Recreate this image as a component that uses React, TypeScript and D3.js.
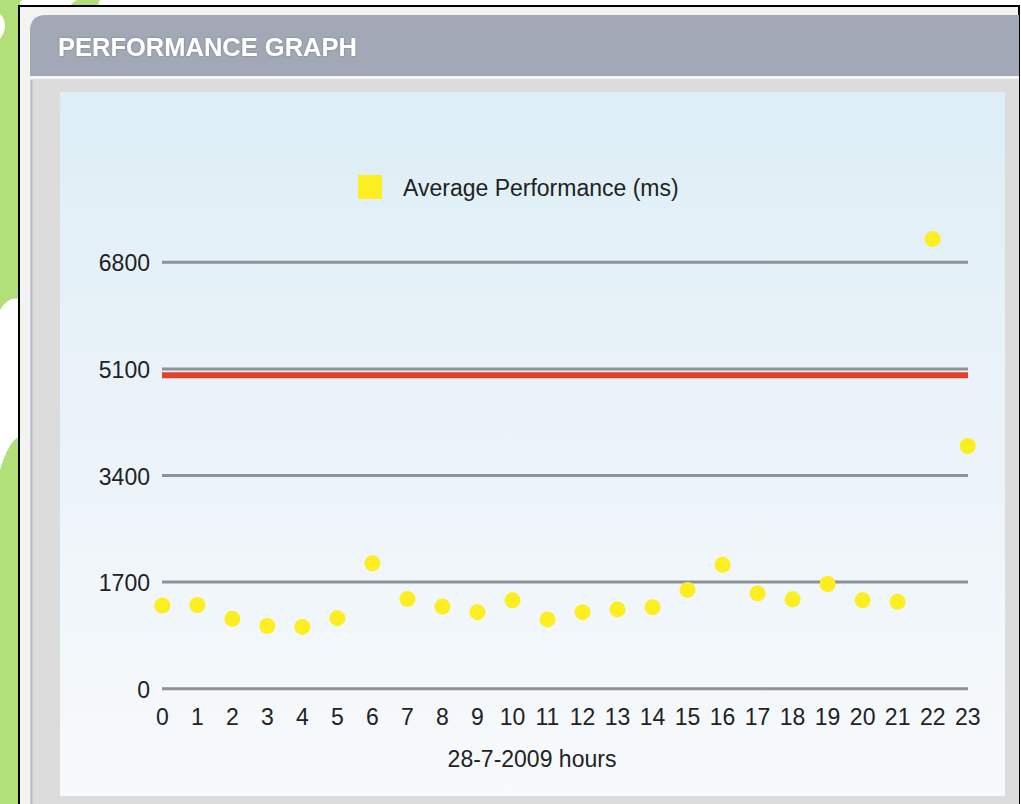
import React from "react";
import * as d3 from "d3";

const title = "PERFORMANCE GRAPH";
const seriesName = "Average Performance (ms)";
const xAxisTitle = "28-7-2009 hours";
const hours = [0, 1, 2, 3, 4, 5, 6, 7, 8, 9, 10, 11, 12, 13, 14, 15, 16, 17, 18, 19, 20, 21, 22, 23];
const avgPerformance = [1325, 1335, 1115, 1000, 985, 1125, 2000, 1430, 1310, 1220, 1410, 1105, 1220, 1265, 1300, 1575, 1975, 1520, 1425, 1670, 1410, 1385, 7170, 3870];
const yTicks = [0, 1700, 3400, 5100, 6800];
const threshold = 5000;

const W = 1021;
const H = 804;

export default function App() {
  const x = d3.scaleLinear().domain([0, 23]).range([162.3, 967.7]);
  const y = d3.scaleLinear().domain([0, 6800]).range([688.7, 262.3]);
  const font = "'Liberation Sans', Arial, Helvetica, sans-serif";

  return (
    <div style={{ position: "absolute", left: 0, top: 0, width: W, height: H, background: "#fff" }}>
      <svg width={W} height={H} style={{ display: "block" }}>
        <defs>
          <linearGradient id="plotBg" x1="0" y1="0" x2="0" y2="1">
            <stop offset="0" stopColor="#ddeef6" />
            <stop offset="0.55" stopColor="#edf4f9" />
            <stop offset="1" stopColor="#f7fafc" />
          </linearGradient>
          <filter id="txtShadow" x="-5%" y="-20%" width="110%" height="140%">
            <feDropShadow dx="0" dy="0" stdDeviation="0.8" floodColor="#6a6f7c" floodOpacity="0.8" />
          </filter>
        </defs>
        <rect x={0} y={0} width={W} height={H} fill="#ffffff" />
        {/* green background blobs */}
        <path d="M0,0 L20,0 L20,300 C14,296 6,300 0,310 Z" fill="#b1df78" />
        <path d="M0,0 L22,0 C14,8 8,14 0,12 Z" fill="#b1df78" />
        <path d="M0,14 C5,18 6,26 4,32 C2,36 0,38 0,40 Z" fill="#ffffff" />
        <path d="M70,6 C74,0 80,-2 86,0 L100,0 C98,3 98,5 100,6 Z" fill="#b1df78" />
        <path d="M0,470 C6,450 12,440 20,436 L20,804 L0,804 Z" fill="#b1df78" />
        {/* outer frame */}
        <rect x={19} y={6} width={1000} height={H} fill="#f3f4f1" stroke="#000" strokeWidth={2} />
        {/* panel */}
        <rect x={30} y={78} width={989} height={H - 78} fill="#dcdcdc" />
        <line x1={31.5} y1={80} x2={31.5} y2={H} stroke="#b9bbcc" strokeWidth={2} />
        {/* header */}
        <path d="M30,76 L30,31 Q30,15 46,15 L1019,15 L1019,76 Z" fill="#a3a8b6" />
        <rect x={30} y={76} width={989} height={3} fill="#f6f6f6" />
        <text x={58} y={56} fontFamily={font} fontWeight="bold" fontSize={25.5} fill="#ffffff" filter="url(#txtShadow)">{title}</text>
        {/* plot area */}
        <rect x={60} y={92} width={945} height={704} fill="url(#plotBg)" />
        {/* legend */}
        <rect x={358} y={175} width={24} height={24} fill="#fdee21" />
        <text x={403} y={196} fontFamily={font} fontSize={23} fill="#222">{seriesName}</text>
        {/* grid lines */}
        {yTicks.map((t) => (
          <g key={t}>
            <line x1={162} x2={968} y1={y(t)} y2={y(t)} stroke="#8d9296" strokeWidth={3} />
            <text x={150} y={y(t) + 9} textAnchor="end" fontFamily={font} fontSize={23} fill="#222">{t}</text>
          </g>
        ))}
        {/* threshold line */}
        <line x1={162} x2={968} y1={y(threshold)} y2={y(threshold)} stroke="#e4402b" strokeWidth={6} />
        {/* x tick labels */}
        {hours.map((h) => (
          <text key={h} x={x(h)} y={725} textAnchor="middle" fontFamily={font} fontSize={23} fill="#222">{h}</text>
        ))}
        <text x={532} y={767} textAnchor="middle" fontFamily={font} fontSize={23} fill="#222">{xAxisTitle}</text>
        {/* points */}
        {avgPerformance.map((v, i) => (
          <circle key={i} cx={x(hours[i])} cy={y(v)} r={8} fill="#fdee21" />
        ))}
      </svg>
    </div>
  );
}
